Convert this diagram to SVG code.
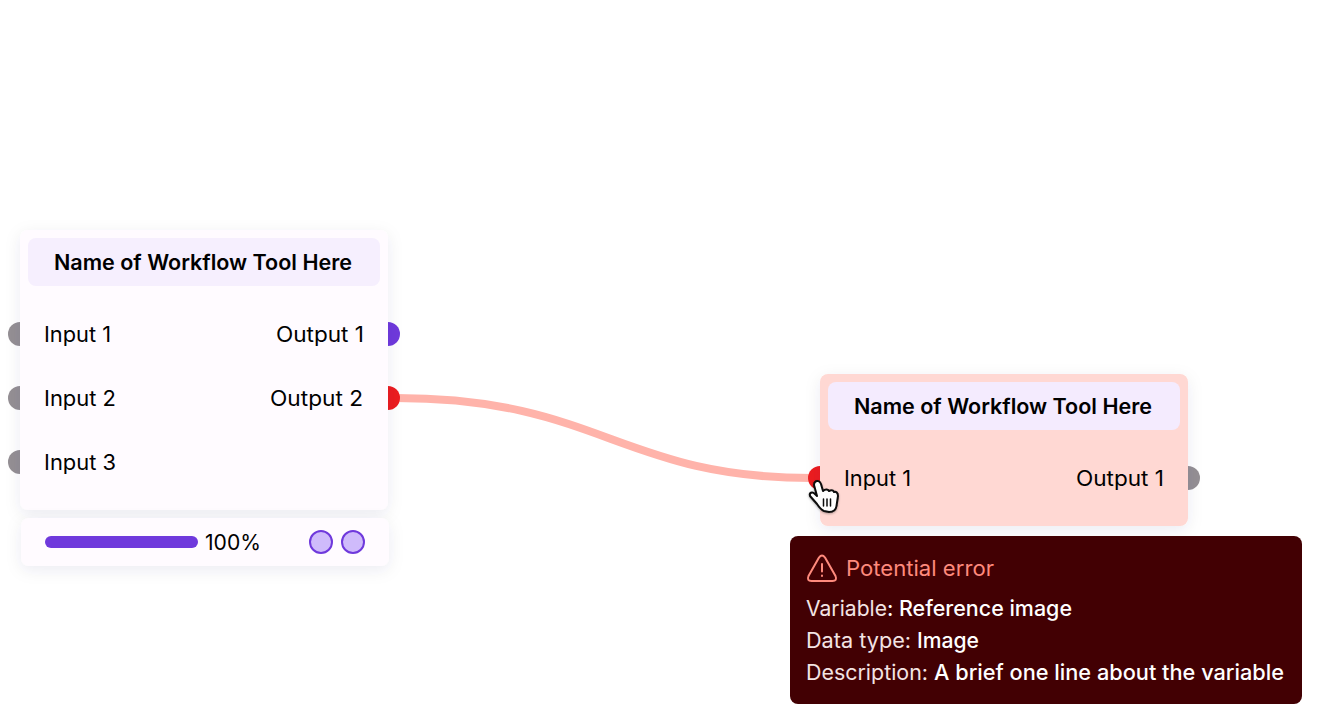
<svg xmlns="http://www.w3.org/2000/svg" width="1320" height="728" viewBox="0 0 1320 728">
<defs>
<style>
text{font-family:"Inter","Noto Sans","Liberation Sans",sans-serif;fill:#000;font-size:21px}
.t{font-weight:600}
.lab{fill:#f3e4e4}
.val{fill:#fff;font-weight:500}
.port{stroke:none}
</style>
<filter id="sh" x="-15%" y="-30%" width="130%" height="170%"><feDropShadow dx="0" dy="4" stdDeviation="8" flood-color="#2a2a55" flood-opacity="0.08"/></filter>
<filter id="cs" x="-30%" y="-30%" width="160%" height="160%"><feDropShadow dx="0" dy="1" stdDeviation="1" flood-color="#000" flood-opacity="0.3"/></filter>
</defs>
<rect width="1320" height="728" fill="#fff"/>
<g id="connectors"><path d="M396 398C600 398 620 478 812 478" fill="none" stroke="#ffb3aa" stroke-width="8"/></g>
<g id="node-1">
<circle cx="20" cy="334" r="12" fill="#948f94"/><circle cx="20" cy="398" r="12" fill="#948f94"/><circle cx="20" cy="462" r="12" fill="#948f94"/>
<circle cx="388" cy="334" r="12" fill="#6f39dc"/><circle cx="388" cy="398" r="12" fill="#ec1c1f"/>
<rect x="20" y="230" width="368" height="280" rx="8" fill="#fffbff" filter="url(#sh)"/>
<rect x="28" y="238" width="352" height="48" rx="8" fill="#f6effe"/>
<text class="t" x="54" y="270" textLength="298" lengthAdjust="spacingAndGlyphs">Name of Workflow Tool Here</text>
<text x="44" y="342" textLength="67" lengthAdjust="spacingAndGlyphs">Input 1</text>
<text x="44" y="406" textLength="72" lengthAdjust="spacingAndGlyphs">Input 2</text>
<text x="44" y="470" textLength="72" lengthAdjust="spacingAndGlyphs">Input 3</text>
<text x="276" y="342" textLength="88" lengthAdjust="spacingAndGlyphs">Output 1</text>
<text x="270" y="406" textLength="93" lengthAdjust="spacingAndGlyphs">Output 2</text>
</g>
<g id="progress">
<rect x="21" y="518" width="368" height="48" rx="8" fill="#fffbff" filter="url(#sh)"/>
<rect x="45" y="536" width="153" height="12" rx="6" fill="#6f39dc"/>
<text x="205" y="550" textLength="56" lengthAdjust="spacingAndGlyphs">100%</text>
<circle cx="321" cy="542" r="11" fill="#cfbbfb" stroke="#6f39dc" stroke-width="2"/>
<circle cx="353" cy="542" r="11" fill="#cfbbfb" stroke="#6f39dc" stroke-width="2"/>
</g>
<g id="node-2">
<circle cx="820" cy="478" r="12" fill="#ec1c1f"/><circle cx="1188" cy="478" r="12" fill="#948f94"/>
<rect x="820" y="374" width="368" height="152" rx="8" fill="#ffd8d3" filter="url(#sh)"/>
<rect x="828" y="382" width="352" height="48" rx="8" fill="#f4ebfe"/>
<text class="t" x="854" y="414" textLength="298" lengthAdjust="spacingAndGlyphs">Name of Workflow Tool Here</text>
<text x="844" y="486" textLength="67" lengthAdjust="spacingAndGlyphs">Input 1</text>
<text x="1076" y="486" textLength="88" lengthAdjust="spacingAndGlyphs">Output 1</text>
</g>
<g id="cursor" stroke-linejoin="round" stroke-linecap="round" filter="url(#cs)">
<path d="M815 482C817 480 820 481 821 484L823 491C825 489 828 489 829 491C831 490 833 490 834 492C836 491 838 493 838 496L836.500 506C836 510 833 512 829 512L824 511C821 510 819 507 817 504L810 496C809 493 812 491 815 494L817 496L814 485C814 484 814 483 815 482Z" fill="#fff" stroke="#0a0a0a" stroke-width="2"/>
<path d="M823.500 499V506M827 499V506M830.500 499V506" fill="none" stroke="#0a0a0a" stroke-width="1.500"/>
</g>
<g id="tooltip">
<rect x="790" y="536" width="512" height="168" rx="8" fill="#420003"/>
<path d="M819 557.500Q822 553.500 825 557.500L835.500 576Q837.500 581 832.500 581H811.500Q806.500 581 808.500 576Z" fill="none" stroke="#ff8a7d" stroke-width="2" stroke-linejoin="round"/>
<path d="M822 564V571.500M822 575.500V576" fill="none" stroke="#ff8a7d" stroke-width="2" stroke-linecap="round"/>
<text x="846" y="576" style="fill:#ff8a7d" textLength="148" lengthAdjust="spacingAndGlyphs">Potential error</text>
<text x="806" y="616" class="lab" textLength="81" lengthAdjust="spacingAndGlyphs">Variable</text><text x="887" y="616" class="val">:</text><text x="899" y="616" class="val" textLength="173" lengthAdjust="spacingAndGlyphs">Reference image</text>
<text x="806" y="648" class="lab" textLength="105" lengthAdjust="spacingAndGlyphs">Data type:</text><text x="917" y="648" class="val" textLength="62" lengthAdjust="spacingAndGlyphs">Image</text>
<text x="806" y="680" class="lab" textLength="122" lengthAdjust="spacingAndGlyphs">Description:</text><text x="934" y="680" class="val" textLength="350" lengthAdjust="spacingAndGlyphs">A brief one line about the variable</text>
</g>
</svg>
